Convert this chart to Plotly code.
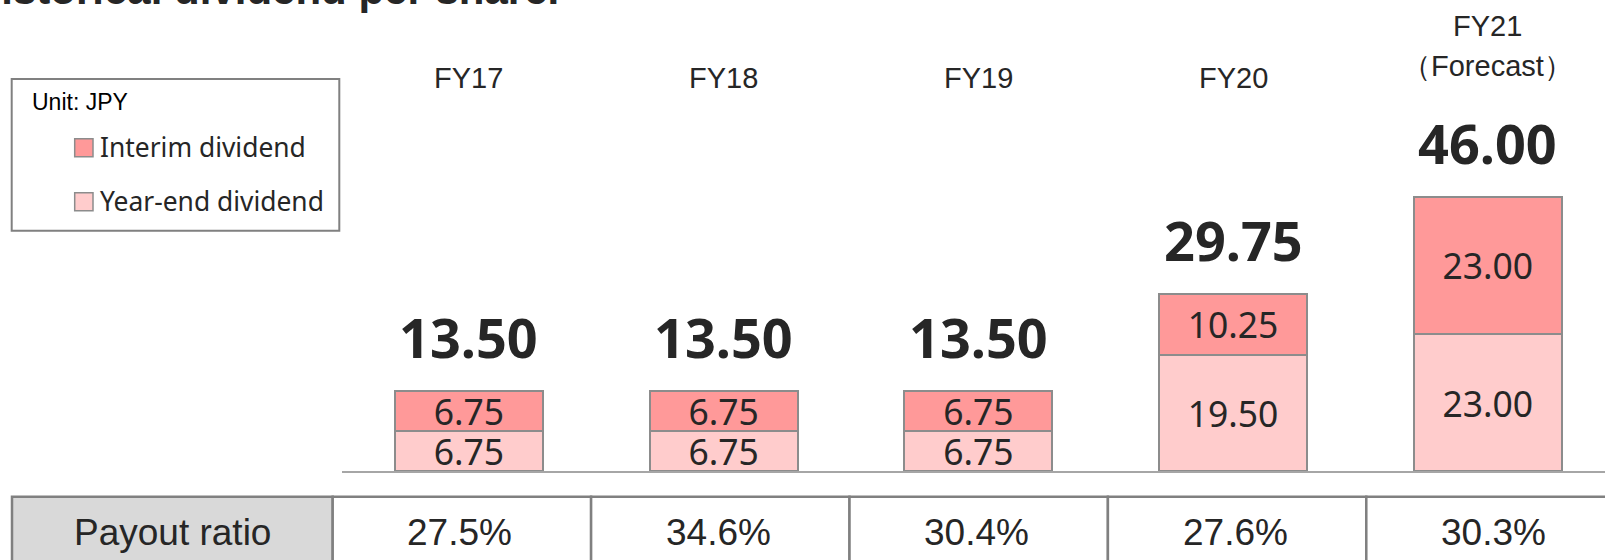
import plotly.graph_objects as go

# ---------------- data ----------------
categories = ["FY17", "FY18", "FY19", "FY20", "FY21"]
category_labels = ["FY17", "FY18", "FY19", "FY20", "FY21<br>（Forecast）"]
series_names = ["Interim dividend", "Year-end dividend"]
interim = [6.75, 6.75, 6.75, 10.25, 23.00]
year_end = [6.75, 6.75, 6.75, 19.50, 23.00]
payout_label = "Payout ratio"
payout = ["27.5%", "34.6%", "30.4%", "27.6%", "30.3%"]
title_text = "Historical dividend per share."
unit_text = "Unit: JPY"

# ---------------- styles ----------------
W, H = 1605, 560
INTERIM_COLOR = "#ff9999"
YEAREND_COLOR = "#ffcccc"
EDGE = "#8c8c8c"
TXT = "#262626"
ARIAL = "Liberation Sans, Arial, sans-serif"
NOTO = "Noto Sans, sans-serif"


def fx(p):
    return p / W


def fy(p):
    return 1 - p / H


totals = [a + b for a, b in zip(interim, year_end)]

fig = go.Figure()
for vals, name, color in [(year_end, series_names[1], YEAREND_COLOR),
                          (interim, series_names[0], INTERIM_COLOR)]:
    fig.add_trace(go.Bar(
        x=categories, y=vals, name=name, width=0.58,
        marker=dict(color=color, line=dict(color=EDGE, width=2)),
        text=[f"{v:.2f}" for v in vals], textposition="inside",
        insidetextanchor="middle", constraintext="none", textangle=0,
        insidetextfont=dict(family=NOTO, size=35.5, color=TXT),
        hoverinfo="skip", showlegend=False,
    ))

# totals above bars
for c, t in zip(categories, totals):
    fig.add_annotation(x=c, y=t, xref="x", yref="y", text=f"{t:.2f}",
                       showarrow=False, yanchor="middle", yshift=54,
                       font=dict(family=NOTO, size=54, color=TXT, weight="bold"))

# category labels at top
for c, lab in zip(categories, category_labels):
    lines = lab.split("<br>")
    if len(lines) == 1:
        centers = [77.7]
    else:
        centers = [26, 66]
    for ln, cy in zip(lines, centers):
        fig.add_annotation(x=c, xref="x", y=fy(cy), yref="paper", text=ln,
                           showarrow=False, yanchor="middle",
                           font=dict(family=ARIAL, size=29, color=TXT))

# title (partially cut at top)
fig.add_annotation(x=fx(-31), xref="paper", y=fy(4 - 0.3465 * 42), yref="paper",
                   text=title_text, showarrow=False, xanchor="left", yanchor="middle",
                   font=dict(family=ARIAL, size=42, color=TXT, weight="bold"))

shapes = []
# legend box
shapes.append(dict(type="rect", xref="paper", yref="paper",
                   x0=fx(11.7), x1=fx(339.3), y0=fy(230.7), y1=fy(79),
                   line=dict(color="#808080", width=2), fillcolor="white"))
fig.add_annotation(x=fx(30), xref="paper", y=fy(102), yref="paper", text=unit_text,
                   showarrow=False, xanchor="left", yanchor="middle",
                   font=dict(family=ARIAL, size=23, color="black"))
for name, color, top in [(series_names[0], INTERIM_COLOR, 138.7),
                         (series_names[1], YEAREND_COLOR, 192.7)]:
    shapes.append(dict(type="rect", xref="paper", yref="paper",
                       x0=fx(74.7), x1=fx(93), y0=fy(top + 18), y1=fy(top),
                       line=dict(color="#8c8c8c", width=1.5), fillcolor=color))
    fig.add_annotation(x=fx(97.5), xref="paper", y=fy(top + 8.5), yref="paper", text=name,
                       showarrow=False, xanchor="left", yanchor="middle",
                       font=dict(family=NOTO, size=26.4, color=TXT))

# payout table
TBL_TOP = 496.7
TBL_BOTTOM = 620
HDR_L, HDR_R = 12, 332.7
COL_W = 258.4
ROW_TEXT_Y = 532.2
shapes.append(dict(type="rect", xref="paper", yref="paper",
                   x0=fx(HDR_L), x1=fx(HDR_R), y0=fy(TBL_BOTTOM), y1=fy(TBL_TOP),
                   line=dict(color="#808080", width=2.5), fillcolor="#d9d9d9"))
fig.add_annotation(x=fx((HDR_L + HDR_R) / 2), xref="paper", y=fy(ROW_TEXT_Y), yref="paper",
                   text=payout_label, showarrow=False, xanchor="center", yanchor="middle",
                   font=dict(family=ARIAL, size=37, color=TXT))
for i, p in enumerate(payout):
    x0 = HDR_R + i * COL_W
    shapes.append(dict(type="rect", xref="paper", yref="paper",
                       x0=fx(x0), x1=fx(x0 + COL_W), y0=fy(TBL_BOTTOM), y1=fy(TBL_TOP),
                       line=dict(color="#808080", width=2.5), fillcolor="white"))
    fig.add_annotation(x=fx(x0 + COL_W / 2 - 2), xref="paper", y=fy(ROW_TEXT_Y), yref="paper",
                       text=p, showarrow=False, xanchor="center", yanchor="middle",
                       font=dict(family=ARIAL, size=37, color=TXT))

# axes geometry
X_LEFT = 341.6
PX_PER_CAT = 254.7
x_range_right = -0.5 + (W - X_LEFT) / PX_PER_CAT
BASE_Y = 471.3
PX_PER_UNIT = 5.97
y_top = BASE_Y / PX_PER_UNIT

fig.update_layout(
    width=W, height=H, autosize=False,
    margin=dict(l=0, r=0, t=0, b=0),
    paper_bgcolor="white", plot_bgcolor="rgba(0,0,0,0)",
    barmode="stack", bargap=0.4,
    shapes=shapes,
    xaxis=dict(domain=[fx(X_LEFT), 1], range=[-0.5, x_range_right],
               type="category", categoryorder="array", categoryarray=categories,
               showline=True, linecolor="#a6a6a6", linewidth=2,
               showticklabels=False, ticks="", showgrid=False, zeroline=False,
               fixedrange=True),
    yaxis=dict(domain=[1 - BASE_Y / H, 1], range=[0, y_top], visible=False,
               showgrid=False, zeroline=False, fixedrange=True),
    showlegend=False,
)

fig.write_html("out.html", config={"displayModeBar": False},
               post_script="document.body.style.margin='0';document.body.style.overflow='hidden';")
